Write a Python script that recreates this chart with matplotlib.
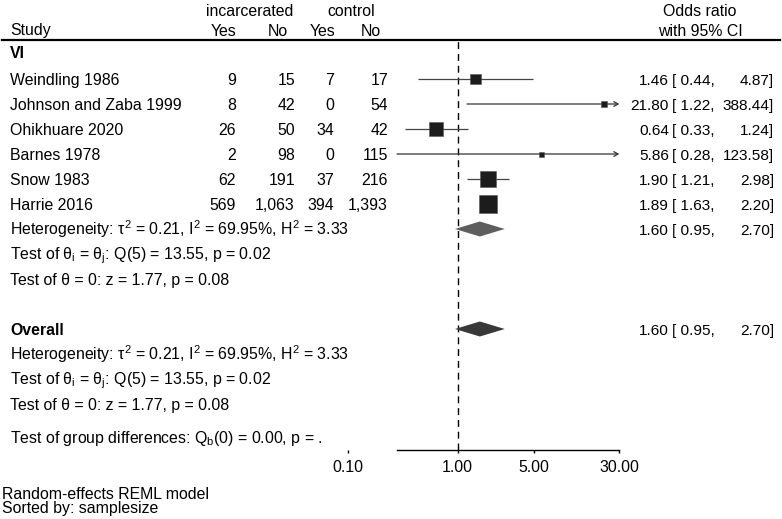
import numpy as np
import matplotlib
matplotlib.use("Agg")
import matplotlib.pyplot as plt
import matplotlib.transforms as mtransforms
from matplotlib.lines import Line2D
from matplotlib.patches import Polygon
from matplotlib.ticker import FixedLocator, FixedFormatter, NullLocator

# ---------------- data ----------------
studies = ["Weindling 1986", "Johnson and Zaba 1999", "Ohikhuare 2020",
           "Barnes 1978", "Snow 1983", "Harrie 2016"]
inc_yes = [9, 8, 26, 2, 62, 569]
inc_no = [15, 42, 50, 98, 191, 1063]
ctl_yes = [7, 0, 34, 0, 37, 394]
ctl_no = [17, 54, 42, 115, 216, 1393]
or_est = [1.46, 21.80, 0.64, 5.86, 1.90, 1.89]
ci_lo = [0.44, 1.22, 0.33, 0.28, 1.21, 1.63]
ci_hi = [4.87, 388.44, 1.24, 123.58, 2.98, 2.20]
weights = [12.2, 3.0, 22.0, 2.7, 27.1, 33.0]
pooled = (1.60, 0.95, 2.70)
xticks = [0.10, 1.00, 5.00, 30.00]
xtick_labels = ["0.10", "1.00", "5.00", "30.00"]
het_text = r"Heterogeneity: $τ^2$ = 0.21, $I^2$ = 69.95%, $H^2$ = 3.33"
q_text = r"Test of $θ_i$ = $θ_j$: Q(5) = 13.55, p = 0.02"
z_text = "Test of θ = 0: z = 1.77, p = 0.08"
grp_text = r"Test of group differences: Q$_b$(0) = 0.00, p = ."
notes = ["Random-effects REML model", "Sorted by: samplesize"]

# ---------------- style ----------------
plt.rcParams["font.family"] = ["Liberation Sans", "DejaVu Sans"]
plt.rcParams["mathtext.fontset"] = "custom"
plt.rcParams["mathtext.rm"] = "Liberation Sans"
plt.rcParams["mathtext.it"] = "Liberation Sans"
plt.rcParams["mathtext.bf"] = "Liberation Sans:bold"
plt.rcParams["mathtext.default"] = "regular"
FS = 11.4
FS_CI = 11.1

W, H = 782, 519
fig = plt.figure(figsize=(W / 100, H / 100), dpi=100)
fig.patch.set_facecolor("white")

# forest axes geometry (pixels)
px_one = 457.5
px_dec = 109.5
ax_l, ax_r = 330, 640
ax_top, ax_bot = 40, 450
row0, rowstep = 79, 25
ax = fig.add_axes([ax_l / W, 1 - ax_bot / H, (ax_r - ax_l) / W, (ax_bot - ax_top) / H])
ax.set_xscale("log")
ax.set_xlim(10 ** ((ax_l - px_one) / px_dec), 10 ** ((ax_r - px_one) / px_dec))
ax.set_ylim((ax_bot - row0) / rowstep, (ax_top - row0) / rowstep)
ax.patch.set_alpha(0)
for s in ["top", "left", "right"]:
    ax.spines[s].set_visible(False)
ax.spines["bottom"].set_bounds(min(ci_lo), max(xticks))
ax.spines["bottom"].set_linewidth(1.0)
ax.yaxis.set_visible(False)
ax.xaxis.set_major_locator(FixedLocator(xticks))
ax.xaxis.set_major_formatter(FixedFormatter(xtick_labels))
ax.xaxis.set_minor_locator(NullLocator())
ax.tick_params(axis="x", direction="out", length=2.5, width=1.0, pad=4.5,
               labelsize=FS, colors="black")

xmax_plot = max(xticks)

# reference line
ax.axvline(1.0, color="black", lw=1.0, dashes=(5, 3.5), zorder=1)

# study rows
rows = np.arange(len(studies))
for i in rows:
    lo, hi = ci_lo[i], ci_hi[i]
    if hi > xmax_plot:
        ax.annotate("", xy=(xmax_plot, i), xytext=(lo, i),
                    arrowprops=dict(arrowstyle="->,head_length=0.3,head_width=0.17",
                                    lw=0.9, color="#333333", shrinkA=0, shrinkB=0),
                    zorder=2)
    else:
        ax.plot([lo, hi], [i, i], color="#444444", lw=0.9, zorder=2,
                solid_capstyle="butt")
ax.scatter(or_est, rows, marker="s", s=np.array(weights) * 4.8,
           color="#1c1c1c", edgecolors="#555555", linewidths=0.4, zorder=3)

# diamonds
def diamond(row, est, lo, hi, color):
    hh = 0.3
    ax.add_patch(Polygon([(lo, row), (est, row - hh), (hi, row), (est, row + hh)],
                         closed=True, facecolor=color, edgecolor="none", zorder=3))

diamond(6, *pooled, "#5e5e5e")
diamond(10, *pooled, "#383838")

# ---------------- text ----------------
def row_trans(dy_px=-5.7):
    base = mtransforms.blended_transform_factory(fig.transFigure, ax.transData)
    return mtransforms.offset_copy(base, fig=fig, x=0, y=dy_px, units="dots")

rt = row_trans()

def rtext(x_px, row, s, ha="left", fs=FS, **kw):
    fig.text(x_px / W, row, s, transform=rt, ha=ha, va="baseline", fontsize=fs, **kw)

def ftext(x_px, y_px, s, ha="left", **kw):
    return fig.text(x_px / W, 1 - y_px / H, s, ha=ha, va="baseline", fontsize=FS, **kw)

# header
ftext(250, 15.5, "incarcerated", ha="center")
ftext(351, 15.5, "control", ha="center")
ftext(10, 35.5, "Study")
ftext(236, 35.5, "Yes", ha="right")
ftext(288, 35.5, "No", ha="right")
ftext(335, 35.5, "Yes", ha="right")
ftext(381, 35.5, "No", ha="right")
ftext(700, 16, "Odds ratio", ha="center")
ftext(700, 36, "with 95% CI", ha="center")

fig.add_artist(Line2D([2 / W, 780 / W], [1 - 40 / H, 1 - 40 / H],
                      transform=fig.transFigure, color="black", lw=1.6))

def ci_text(row, est, lo, hi):
    rtext(669, row, f"{est:.2f}", ha="right", fs=FS_CI)
    rtext(672, row, f"[ {lo:.2f},", fs=FS_CI)
    rtext(774, row, f"{hi:.2f}]", ha="right", fs=FS_CI)

rtext(10, -1.07, "VI", fontweight="bold")
for i in rows:
    rtext(10, i, studies[i])
    rtext(236, i, f"{inc_yes[i]:,}", ha="right")
    rtext(295, i, f"{inc_no[i]:,}", ha="right")
    rtext(334, i, f"{ctl_yes[i]:,}", ha="right")
    rtext(388, i, f"{ctl_no[i]:,}", ha="right")
    ci_text(i, or_est[i], ci_lo[i], ci_hi[i])

for r in (6, 10):
    ci_text(r, *pooled)

rtext(10, 6, het_text)
rtext(10, 7, q_text)
rtext(10, 8, z_text)
rtext(10, 10, "Overall", fontweight="bold")
rtext(10, 11, het_text)
rtext(10, 12, q_text)
rtext(10, 13, z_text)
rtext(10, 14.32, grp_text)

fig.text(2 / W, 1 - 513 / H, "\n".join(notes), ha="left", va="baseline",
         fontsize=FS, linespacing=0.92)

fig.savefig("out.png", dpi=100, facecolor="white")
